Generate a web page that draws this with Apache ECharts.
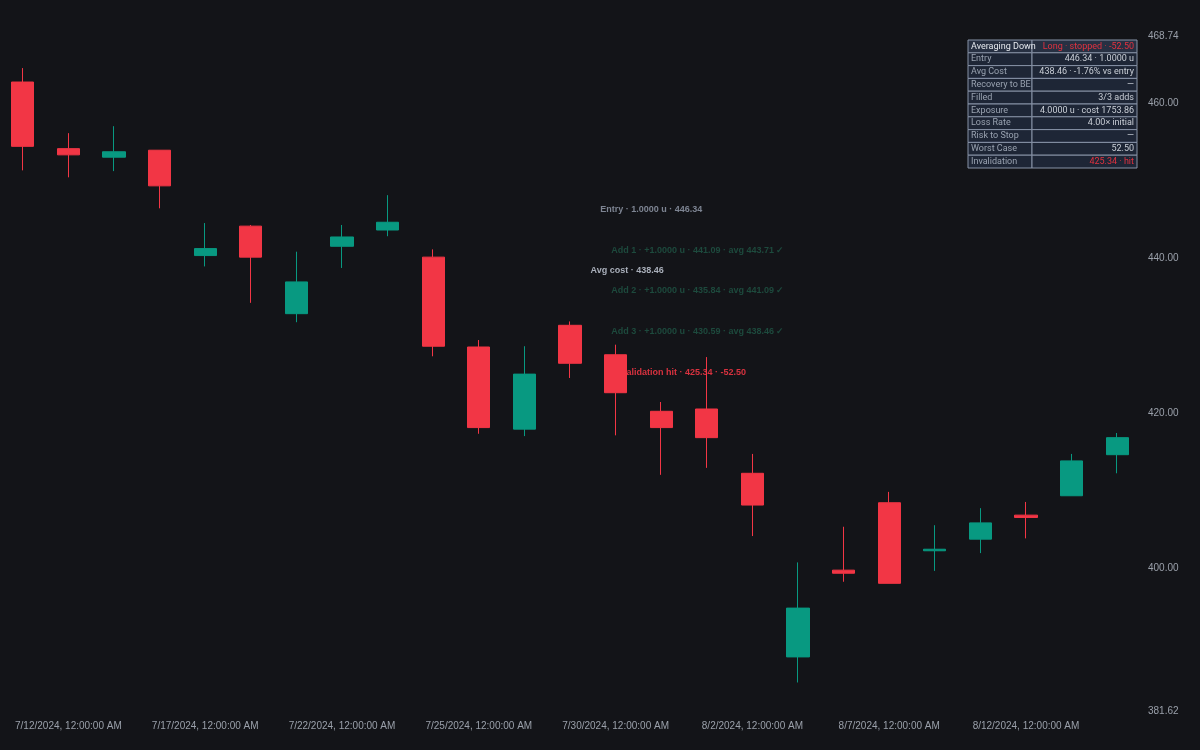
<!DOCTYPE html>
<html><head><meta charset="utf-8">
<script src="https://cdn.jsdelivr.net/npm/echarts@6/dist/echarts.min.js"></script>
<style>html,body{margin:0;background:#131418}#c{width:1200px;height:750px}</style>
</head><body><div id="c"></div>
<script>
const dates=['7/11/2024, 12:00:00 AM','7/12/2024, 12:00:00 AM','7/15/2024, 12:00:00 AM','7/16/2024, 12:00:00 AM','7/17/2024, 12:00:00 AM','7/18/2024, 12:00:00 AM','7/19/2024, 12:00:00 AM','7/22/2024, 12:00:00 AM','7/23/2024, 12:00:00 AM','7/24/2024, 12:00:00 AM','7/25/2024, 12:00:00 AM','7/26/2024, 12:00:00 AM','7/29/2024, 12:00:00 AM','7/30/2024, 12:00:00 AM','7/31/2024, 12:00:00 AM','8/1/2024, 12:00:00 AM','8/2/2024, 12:00:00 AM','8/5/2024, 12:00:00 AM','8/6/2024, 12:00:00 AM','8/7/2024, 12:00:00 AM','8/8/2024, 12:00:00 AM','8/9/2024, 12:00:00 AM','8/12/2024, 12:00:00 AM','8/13/2024, 12:00:00 AM','8/14/2024, 12:00:00 AM'];
const opens =[462.8,454.2,453.1,454.0,440.4,444.2,432.9,441.6,443.7,440.2,428.6,418.0,431.4,427.6,420.3,420.6,412.3,388.6,399.8,408.5,402.3,403.8,406.9,409.4,414.7];
const closes=[454.5,453.4,453.8,449.4,441.3,440.2,437.0,442.8,444.7,428.7,418.2,425.1,426.5,422.7,418.2,416.9,408.2,394.9,399.4,398.1,402.5,405.9,406.6,413.9,416.9];
const lows  =[451.4,450.5,451.3,446.5,439.0,434.3,431.8,438.8,442.9,427.4,417.4,417.1,424.6,417.2,412.1,413.0,404.2,385.3,398.3,398.1,399.7,402.0,403.9,409.4,412.3];
const highs =[464.6,456.2,457.1,454.0,444.6,444.35,440.9,444.35,448.2,441.2,429.5,428.7,431.9,428.9,421.5,427.3,414.8,400.8,405.4,409.9,405.6,407.8,408.6,414.8,417.5];
const yMin=381.62, yMax=468.74;
const notes=[
 {text:'Entry · 1.0000 u · 446.34', idx:14, value:446.34, dx:-10, color:'#7d8492'},
 {text:'Add 1 · +1.0000 u · 441.09 · avg 443.71 ✓', idx:15, value:441.09, dx:-9, color:'#1d4a3d'},
 {text:'Avg cost · 438.46', idx:14, value:438.46, dx:-34, color:'#a9afba'},
 {text:'Add 2 · +1.0000 u · 435.84 · avg 441.09 ✓', idx:15, value:435.84, dx:-9, color:'#1d4a3d'},
 {text:'Add 3 · +1.0000 u · 430.59 · avg 438.46 ✓', idx:15, value:430.59, dx:-9, color:'#1d4a3d'},
 {text:'Invalidation hit · 425.34 · -52.50', idx:15, value:425.34, dx:-27, color:'#d8323f'}
];
const tblKeys=['Averaging Down','Entry','Avg Cost','Recovery to BE','Filled','Exposure','Loss Rate','Risk to Stop','Worst Case','Invalidation'];
const tblVals=['Long · stopped · -52.50','446.34 · 1.0000 u','438.46 · -1.76% vs entry','—','3/3 adds','4.0000 u · cost 1753.86','4.00× initial','—','52.50','425.34 · hit'];
const tblRed=[true,false,false,false,false,false,false,false,false,true];

const data=dates.map((d,i)=>[opens[i],closes[i],lows[i],highs[i]]);
const g=[];
const tx=968,ty=40,rh=12.8,c1=64,w=169;
tblKeys.forEach((k,i)=>{
  const y=ty+i*rh;
  g.push({type:'rect',shape:{x:tx,y:y,width:c1,height:rh},style:{fill:i===0?'#273042':'#1e2636',stroke:'#8792a6',lineWidth:1}});
  g.push({type:'rect',shape:{x:tx+c1,y:y,width:w-c1,height:rh},style:{fill:i===0?'#273042':'#1e2636',stroke:'#8792a6',lineWidth:1}});
  g.push({type:'text',x:tx+3,y:y+rh/2,style:{text:k,fill:i===0?'#e6e9ee':'#9aa3b1',font:'9px Roboto, sans-serif',verticalAlign:'middle'}});
  g.push({type:'text',x:tx+w-3,y:y+rh/2,style:{text:tblVals[i],fill:tblRed[i]?'#e2323f':'#c9ced6',font:'9px Roboto, sans-serif',align:'right',verticalAlign:'middle'}});
});
const chart=echarts.init(document.getElementById('c'));
chart.setOption({
 backgroundColor:'#131418',
 animation:false,
 grid:{left:0,right:60,top:36,bottom:39},
 xAxis:{type:'category',data:dates,axisLine:{show:false},axisTick:{show:false},
   axisLabel:{color:'#9aa0aa',fontSize:10,interval:(i)=>i%3===1,margin:10},splitLine:{show:false}},
 yAxis:{type:'value',position:'right',min:yMin,max:yMax,scale:true,splitNumber:4,
   axisLine:{show:false},axisTick:{show:false},splitLine:{show:false},
   axisLabel:{color:'#9aa0aa',fontSize:10,margin:8,formatter:v=>v.toFixed(2),showMinLabel:true,showMaxLabel:true}},
 graphic:g,
 series:[
  {type:'line',data:[],z:1,silent:true,
   markPoint:{symbol:'circle',symbolSize:0,z:1,
     data:notes.map(n=>({coord:[n.idx,n.value],label:{show:true,position:'inside',offset:[n.dx,0],formatter:n.text,color:n.color,fontSize:9,fontWeight:'bold'}}))}},
  {type:'candlestick',data:data,z:5,barWidth:'50%',
   itemStyle:{color:'#089981',color0:'#f23645',borderColor:'#089981',borderColor0:'#f23645',borderWidth:1}}
 ]
});
</script></body></html>
